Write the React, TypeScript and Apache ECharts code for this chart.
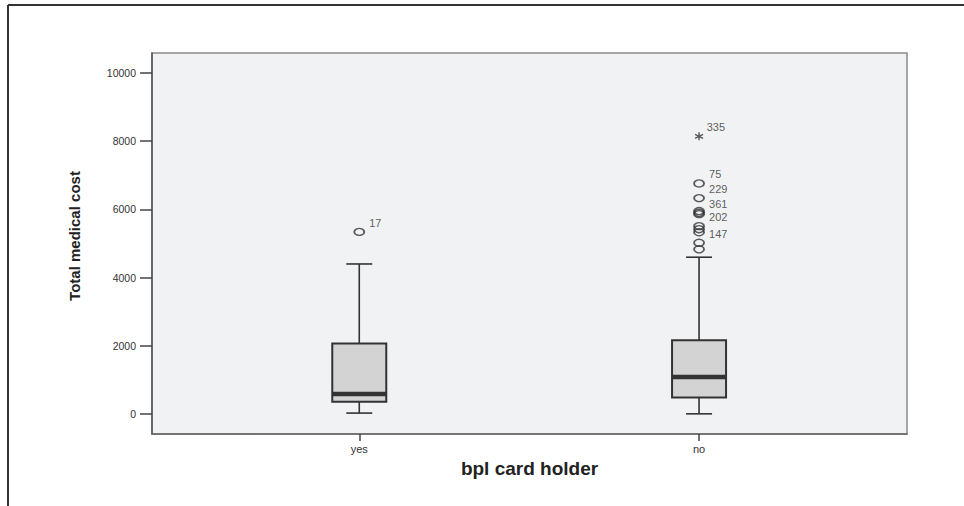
import React, { useEffect, useRef } from "react";
import * as echarts from "echarts";

// categories
const categories = ["yes", "no"];
// box statistics: [position, min, Q1, median, Q3, max]
const boxStats = [
  [1, 30, 360, 592, 2070, 4400],
  [2, 8, 487, 1090, 2166, 4598],
];
// outliers: [position, value, case label]
const outliers = [
  [1, 5340, "17"],
  [2, 6760, "75"],
  [2, 6330, "229"],
  [2, 5950, ""],
  [2, 5900, "361"],
  [2, 5860, ""],
  [2, 5510, "202"],
  [2, 5420, ""],
  [2, 5330, ""],
  [2, 5020, "147"],
  [2, 4830, ""],
];
// extreme values
const extremes = [[2, 8143, "335"]];
// y tick labels
const yTicks = [0, 2000, 4000, 6000, 8000, 10000];

const FONT = "'Liberation Sans', Arial, sans-serif";

export default function App() {
  const ref = useRef<HTMLDivElement>(null);
  useEffect(() => {
    if (!ref.current) return;
    const chart = echarts.init(ref.current, null, { renderer: "svg" });
    const option: any = {
      animation: false,
      backgroundColor: "#ffffff",
      grid: {
        left: 152,
        right: 57,
        top: 53,
        bottom: 72,
        show: true,
        backgroundColor: "#f1f2f4",
        borderColor: "#8a8a8a",
        borderWidth: 1.5,
      },
      graphic: [
        { type: "line", shape: { x1: 8, y1: 5, x2: 964, y2: 5 }, style: { stroke: "#333", lineWidth: 2 } },
        { type: "line", shape: { x1: 8, y1: 5, x2: 8, y2: 506 }, style: { stroke: "#333", lineWidth: 2 } },
        {
          type: "text",
          x: 74,
          y: 236,
          rotation: Math.PI / 2,
          style: {
            text: "Total medical cost",
            fill: "#222",
            font: "bold 15px 'Liberation Sans', Arial, sans-serif",
            align: "center",
            verticalAlign: "middle",
          },
        },
      ],
      xAxis: {
        type: "value",
        min: 0.39,
        max: 2.612,
        splitLine: { show: false },
        axisLine: { show: true, onZero: false, lineStyle: { color: "#666", width: 1.5 } },
        axisTick: { show: true, customValues: [1, 2], length: 7, lineStyle: { color: "#444", width: 1.5 } },
        axisLabel: {
          customValues: [1, 2],
          formatter: (v: number) => categories[Math.round(v) - 1] || "",
          color: "#333",
          fontSize: 11,
          fontFamily: FONT,
          margin: 9,
        },
        name: "bpl card holder",
        nameLocation: "middle",
        nameGap: 23,
        nameTextStyle: { color: "#222", fontSize: 19, fontWeight: "bold", fontFamily: FONT, verticalAlign: "top" },
      },
      yAxis: {
        type: "value",
        min: -583,
        max: 10583,
        splitLine: { show: false },
        axisLine: { show: true, onZero: false, lineStyle: { color: "#555", width: 1.5 } },
        axisTick: { show: true, customValues: yTicks, length: 12, lineStyle: { color: "#444", width: 1.5 } },
        axisLabel: {
          customValues: yTicks,
          formatter: (v: number) => String(v),
          color: "#333",
          fontSize: 10.5,
          fontFamily: FONT,
          margin: 16,
        },
      },
      series: [
        {
          type: "custom",
          data: boxStats,
          encode: { x: 0, y: [1, 2, 3, 4, 5] },
          renderItem: (params: any, api: any) => {
            const x = api.value(0);
            const pMin = api.coord([x, api.value(1)]);
            const pQ1 = api.coord([x, api.value(2)]);
            const pMed = api.coord([x, api.value(3)]);
            const pQ3 = api.coord([x, api.value(4)]);
            const pMax = api.coord([x, api.value(5)]);
            const cx = pMin[0];
            const halfBox = 27;
            const halfCap = 13;
            const stroke = { stroke: "#333", lineWidth: 1.6 };
            return {
              type: "group",
              children: [
                { type: "line", shape: { x1: cx, y1: pMax[1], x2: cx, y2: pQ3[1] }, style: stroke },
                { type: "line", shape: { x1: cx - halfCap, y1: pMax[1], x2: cx + halfCap, y2: pMax[1] }, style: stroke },
                { type: "line", shape: { x1: cx, y1: pMin[1], x2: cx, y2: pQ1[1] }, style: stroke },
                { type: "line", shape: { x1: cx - halfCap, y1: pMin[1], x2: cx + halfCap, y2: pMin[1] }, style: stroke },
                {
                  type: "rect",
                  shape: { x: cx - halfBox, y: pQ3[1], width: halfBox * 2, height: pQ1[1] - pQ3[1] },
                  style: { fill: "#d3d3d3", stroke: "#333", lineWidth: 2 },
                },
                {
                  type: "line",
                  shape: { x1: cx - halfBox, y1: pMed[1], x2: cx + halfBox, y2: pMed[1] },
                  style: { stroke: "#333", lineWidth: 4.5 },
                },
              ],
            };
          },
          z: 2,
        },
        {
          type: "scatter",
          data: outliers,
          encode: { x: 0, y: 1 },
          symbol: "circle",
          symbolSize: [10, 7],
          itemStyle: { color: "rgba(0,0,0,0)", borderColor: "#333", borderWidth: 1.6 },
          label: {
            show: true,
            position: "right",
            distance: 4,
            offset: [0, -9],
            formatter: (p: any) => p.value[2],
            color: "#333",
            fontSize: 11,
            fontFamily: FONT,
          },
          z: 3,
        },
        {
          type: "scatter",
          data: extremes,
          encode: { x: 0, y: 1 },
          symbol: "path://M5 0L5 10M0.7 2.5L9.3 7.5M9.3 2.5L0.7 7.5",
          symbolSize: 8,
          itemStyle: { color: "rgba(0,0,0,0)", borderColor: "#333", borderWidth: 1.4 },
          label: {
            show: true,
            position: "right",
            distance: 3,
            offset: [0, -9],
            formatter: (p: any) => p.value[2],
            color: "#333",
            fontSize: 11,
            fontFamily: FONT,
          },
          z: 3,
        },
      ],
    };
    chart.setOption(option);
    return () => chart.dispose();
  }, []);
  return (
    <div
      ref={ref}
      style={{ position: "fixed", left: 0, top: 0, width: 964, height: 506 }}
    />
  );
}
